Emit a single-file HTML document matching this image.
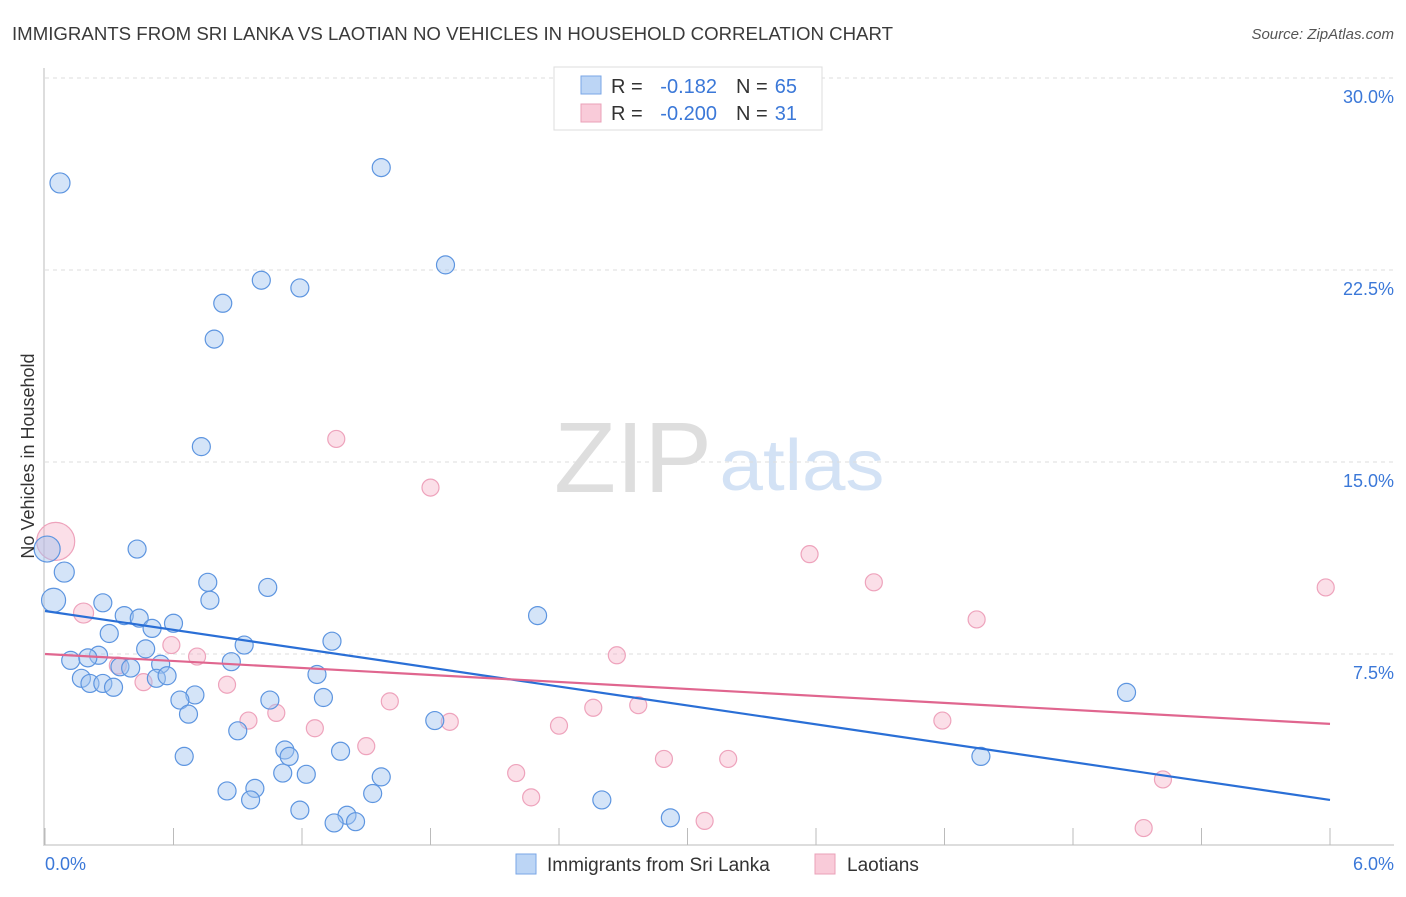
<!DOCTYPE html>
<html><head><meta charset="utf-8"><style>
body{margin:0;background:#fff;font-family:"Liberation Sans",sans-serif}
svg text{font-family:"Liberation Sans",sans-serif}
</style></head><body>
<svg id="chart" width="1406" height="892">
<text x="12" y="40" font-size="18" fill="#3a3a3a" textLength="881" lengthAdjust="spacingAndGlyphs">IMMIGRANTS FROM SRI LANKA VS LAOTIAN NO VEHICLES IN HOUSEHOLD CORRELATION CHART</text>
<text x="1394" y="39" font-size="15" font-style="italic" fill="#555" text-anchor="end">Source: ZipAtlas.com</text>
<g><text x="633" y="492" font-size="100" font-family="Liberation Serif" fill="#dedede" text-anchor="middle" textLength="158" lengthAdjust="spacingAndGlyphs">ZIP</text><text x="802" y="490" font-size="72" fill="#d3e2f5" text-anchor="middle" textLength="165" lengthAdjust="spacingAndGlyphs">atlas</text></g>
<g id="grid"></g><g id="axes"></g><g id="marks"></g>
<text transform="translate(34,456) rotate(-90)" font-size="18" fill="#333" text-anchor="middle">No Vehicles in Household</text>
<text x="45" y="870" font-size="18" fill="#3b78d8">0.0%</text>
<text x="1394" y="870" font-size="18" fill="#3b78d8" text-anchor="end">6.0%</text>
<g>
<rect x="554" y="67" width="268" height="63" fill="#fff" stroke="#ddd"/>
<rect x="581" y="76" width="20" height="18" fill="#bcd5f5" stroke="#7aa6e6"/>
<rect x="581" y="104" width="20" height="18" fill="#f9cbd9" stroke="#eaa0b8"/>
<text y="93" font-size="20" fill="#333"><tspan x="611">R =</tspan><tspan x="717" text-anchor="end" fill="#3b78d8">-0.182</tspan><tspan x="736">N =</tspan><tspan x="797" text-anchor="end" fill="#3b78d8">65</tspan></text>
<text y="120" font-size="20" fill="#333"><tspan x="611">R =</tspan><tspan x="717" text-anchor="end" fill="#3b78d8">-0.200</tspan><tspan x="736">N =</tspan><tspan x="797" text-anchor="end" fill="#3b78d8">31</tspan></text>
</g>
<g>
<rect x="516" y="854" width="20" height="20" fill="#bcd5f5" stroke="#7aa6e6"/>
<text x="547" y="871" font-size="19" fill="#333">Immigrants from Sri Lanka</text>
<rect x="815" y="854" width="20" height="20" fill="#f9cbd9" stroke="#eaa0b8"/>
<text x="847" y="871" font-size="19" fill="#333">Laotians</text>
</g>
</svg>
<script>
const yTicks=[7.5,15,22.5,30];
const yTickLabels=["7.5%","15.0%","22.5%","30.0%"];
const xTicks=[0,0.6,1.2,1.8,2.4,3.0,3.6,4.2,4.8,5.4,6.0];
const blueX=[0.07,1.57,1.87,1.01,1.19,0.83,0.79,0.73,0.01,0.43,0.09,0.76,1.04,0.04,0.27,0.77,0.37,0.44,2.30,0.60,0.50,0.30,1.34,0.93,0.47,0.25,0.12,0.20,0.35,0.40,0.54,0.87,1.27,0.52,0.57,0.17,0.21,0.27,0.32,0.70,1.30,0.63,1.05,0.67,1.82,0.90,5.05,0.65,1.12,1.14,1.38,4.37,1.11,1.22,1.57,0.85,0.98,0.96,1.53,2.60,1.19,1.41,1.35,1.45,2.92];
const blueY=[25.9,26.5,22.7,22.1,21.8,21.2,19.8,15.6,11.6,11.6,10.7,10.3,10.1,9.6,9.5,9.6,9.0,8.9,9.0,8.7,8.5,8.3,8.0,7.85,7.7,7.45,7.25,7.35,7.0,6.95,7.1,7.2,6.7,6.55,6.65,6.55,6.35,6.35,6.2,5.9,5.8,5.7,5.7,5.15,4.9,4.5,6.0,3.5,3.75,3.5,3.7,3.5,2.85,2.8,2.7,2.15,2.25,1.8,2.05,1.8,1.4,1.2,0.9,0.95,1.1];
const blueR=[10,9,9,9,9,9,9,9,13,9,10,9,9,12,9,9,9,9,9,9,9,9,9,9,9,9,9,9,9,9,9,9,9,9,9,9,9,9,9,9,9,9,9,9,9,9,9,9,9,9,9,9,9,9,9,9,9,9,9,9,9,9,9,9,9];
const pinkX=[0.05,0.18,1.36,1.80,3.57,3.87,5.98,4.35,0.59,2.67,0.71,0.34,0.46,0.85,1.61,1.08,0.95,1.26,1.89,2.40,2.56,2.77,4.19,1.50,2.89,3.19,2.20,2.27,3.08,5.22,5.13];
const pinkY=[11.9,9.1,15.9,14.0,11.4,10.3,10.1,8.85,7.85,7.45,7.4,7.05,6.4,6.3,5.65,5.2,4.9,4.6,4.85,4.7,5.4,5.5,4.9,3.9,3.4,3.4,2.85,1.9,0.98,2.6,0.7];
const pinkR=[19,10,8.5,8.5,8.5,8.5,8.5,8.5,8.5,8.5,8.5,8.5,8.5,8.5,8.5,8.5,8.5,8.5,8.5,8.5,8.5,8.5,8.5,8.5,8.5,8.5,8.5,8.5,8.5,8.5,8.5];
const blueTrend=[9.18,1.80];
const pinkTrend=[7.5,4.77];
const X=v=>45+v/6*1285, Y=v=>846-v/7.5*192;
const NS="http://www.w3.org/2000/svg";
function mk(t,a,p){const e=document.createElementNS(NS,t);for(const k in a)e.setAttribute(k,a[k]);p.appendChild(e);return e;}
const grid=document.getElementById('grid'),axes=document.getElementById('axes'),marks=document.getElementById('marks');
yTicks.forEach((t,i)=>{const l=mk('line',{x1:45,x2:1394,y1:Y(t),y2:Y(t),stroke:'#ddd','stroke-dasharray':'4,4'},grid);


const tx=mk('text',{x:1394,y:Y(t)+25,'font-size':18,fill:'#3b78d8','text-anchor':'end'},grid);tx.textContent=yTickLabels[i];

});
const xa=mk('line',{x1:45,x2:1394,y1:845,y2:845,stroke:'#bbb'},axes);


const ya=mk('line',{x1:44,x2:44,y1:68,y2:846,stroke:'#bbb'},axes);


xTicks.forEach(t=>{const l=mk('line',{x1:X(t),x2:X(t),y1:828,y2:845,stroke:'#bbb'},axes);

});
pinkX.forEach((x,i)=>{const c=mk('circle',{cx:X(x),cy:Y(pinkY[i]),r:pinkR[i],fill:'rgba(245,170,195,0.38)',stroke:'#eea3bc','stroke-width':1.2},marks);

});
blueX.forEach((x,i)=>{const c=mk('circle',{cx:X(x),cy:Y(blueY[i]),r:blueR[i],fill:'rgba(160,195,240,0.45)',stroke:'#5d95e0','stroke-width':1.2},marks);

});
const bl=mk('line',{x1:X(0),x2:X(6),y1:Y(blueTrend[0]),y2:Y(blueTrend[1]),stroke:'#2a6fd6','stroke-width':2.2},marks);


const pl=mk('line',{x1:X(0),x2:X(6),y1:Y(pinkTrend[0]),y2:Y(pinkTrend[1]),stroke:'#e0668f','stroke-width':2.2},marks);


</script>
</body></html>
